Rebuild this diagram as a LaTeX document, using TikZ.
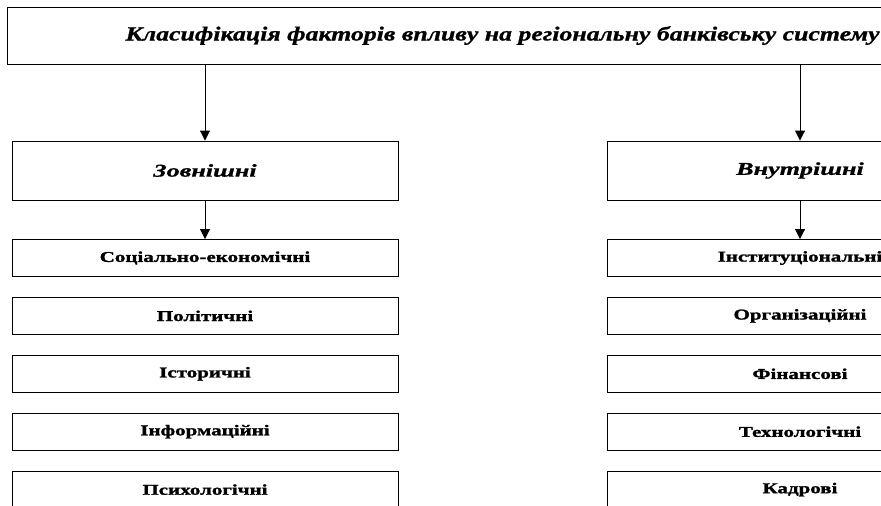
\documentclass[tikz,border=0pt]{standalone}
\usepackage{fontspec}
\setmainfont{Liberation Serif}
\newfontfamily\headfont[FakeStretch=1.29,FakeBold=1]{Liberation Serif}
\newfontfamily\groupfont[FakeStretch=1.45,FakeBold=1]{Liberation Serif}
\newfontfamily\itemfont[FakeStretch=1.4,FakeBold=1.5]{Liberation Serif}
\usetikzlibrary{positioning,arrows.meta}

\begin{document}
\begin{tikzpicture}[x=1pt,y=1pt,>={Triangle[length=10pt,width=10pt]},line width=0.9pt,
	node distance=20pt,
	head/.style={draw,minimum width=991pt,minimum height=57pt,font=\headfont\fontsize{20}{22}\bfseries\itshape\selectfont},
	group/.style={draw,minimum width=386pt,minimum height=59pt,font=\groupfont\fontsize{18}{20}\bfseries\itshape\selectfont},
	item/.style={draw,minimum width=386pt,minimum height=37pt,font=\itemfont\fontsize{15}{17}\bfseries\selectfont}]
		\clip (0,0) rectangle (881,-506);
		\useasboundingbox (0,0) rectangle (881,-506);
		\node[head] (cls) at (502.5,-35.5) {Класифікація факторів впливу на регіональну банківську систему};
		\node[group] (ext) at (205,-170.5) {Зовнішні};
		\node[group] (int) at (800,-170.5) {Внутрішні};

		\node[item] (e1) at (205,-258) {Соціально-економічні};
		\node[item] (e2) [below=of e1] {Політичні};
		\node[item] (e3) [below=of e2] {Історичні};
		\node[item] (e4) [below=of e3] {Інформаційні};
		\node[item] (e5) [below=of e4] {Психологічні};

		\node[item] (i1) at (800,-258) {Інституціональні};
		\node[item] (i2) [below=of i1] {Організаційні};
		\node[item] (i3) [below=of i2] {Фінансові};
		\node[item] (i4) [below=of i3] {Технологічні};
		\node[item] (i5) [below=of i4] {Кадрові};

		\draw[->] (cls.south -| ext) -- (ext.north);
		\draw[->] (cls.south -| int) -- (int.north);
		\draw[->] (ext) -- (e1);
		\draw[->] (int) -- (i1);
	\end{tikzpicture}
\end{document}
